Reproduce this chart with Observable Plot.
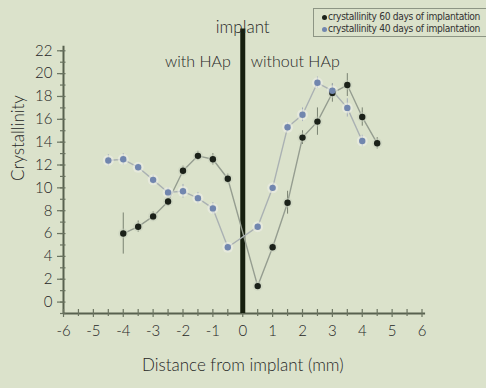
<!DOCTYPE html>
<html>
<head>
<meta charset="utf-8">
<script src="https://cdn.jsdelivr.net/npm/d3@7"></script>
<script src="https://cdn.jsdelivr.net/npm/@observablehq/plot@0.6"></script>
<style>
  html, body { margin: 0; padding: 0; background: #dbe2cb; }
  #wrap { position: relative; width: 486px; height: 388px; overflow: hidden; background: #dbe2cb; }
  #legend { position: absolute; left: 313px; top: 8px; width: 190px; height: 29px; border: 1.5px solid #8d9584;
    font-family: "DejaVu Sans Condensed", "Liberation Sans Narrow", sans-serif; font-size: 10.2px; color: #333; line-height: 12px; padding-top: 2px; box-sizing: border-box; }
  #legend div { white-space: nowrap; padding-left: 14px; position: relative; letter-spacing: -0.35px; height: 12px; }
  #legend span { position: absolute; left: 8px; top: 4px; width: 5px; height: 5px; border-radius: 50%; }
</style>
</head>
<body>
<div id="wrap"></div>
<script>
const seriesNames = ["crystallinity 60 days of implantation", "crystallinity 40 days of implantation"];
const seriesColors = ["#1b2119", "#7186ae"];

const x60 = [-4, -3.5, -3, -2.5, -2, -1.5, -1, -0.5, 0.5, 1, 1.5, 2, 2.5, 3, 3.5, 4, 4.5];
const y60 = [6.0, 6.6, 7.5, 8.8, 11.5, 12.8, 12.5, 10.8, 1.4, 4.8, 8.7, 14.4, 15.8, 18.3, 19.0, 16.2, 13.9];
const e60 = [1.8, 0.5, 0.4, 0.4, 0.4, 0.4, 0.5, 0.4, 0.2, 0.3, 1.0, 0.6, 1.2, 0.8, 1.0, 0.8, 0.5];

const x40 = [-4.5, -4, -3.5, -3, -2.5, -2, -1.5, -1, -0.5, 0.5, 1, 1.5, 2, 2.5, 3, 3.5, 4];
const y40 = [12.4, 12.5, 11.8, 10.7, 9.6, 9.7, 9.1, 8.2, 4.8, 6.6, 10.0, 15.3, 16.4, 19.2, 18.5, 17.0, 14.1];
const e40 = [0.5, 0.5, 0.3, 0.4, 0.4, 0.6, 0.5, 0.5, 0.3, 0.3, 0.3, 0.4, 0.6, 0.5, 0.6, 0.8, 0.5];

const xTicks = [-6, -5, -4, -3, -2, -1, 0, 1, 2, 3, 4, 5, 6];
const yTicks = [0, 2, 4, 6, 8, 10, 12, 14, 16, 18, 20, 22];

const d60 = x60.map((x, i) => ({x, y: y60[i], e: e60[i], s: seriesNames[0]}));
const d40 = x40.map((x, i) => ({x, y: y40[i], e: e40[i], s: seriesNames[1]}));

const font = "Lato, 'Open Sans', sans-serif";
const fmt = d => String(d);
const ink = "#262626";

const chart = Plot.plot({
  width: 486,
  height: 388,
  marginLeft: 63,
  marginRight: 64.5,
  marginTop: 48,
  marginBottom: 75,
  style: {background: "#dbe2cb", fontFamily: font, fontWeight: 300, color: ink},
  x: {domain: [-6, 6]},
  y: {domain: [-1, 22.2]},
  marks: [
    Plot.ruleX([-6], {y1: -1, y2: 22.4, stroke: "#58614f", strokeWidth: 2}),
    Plot.ruleY([-1], {x1: -6, x2: 6.12, stroke: "#58614f", strokeWidth: 2}),
    Plot.axisY({ticks: yTicks, tickFormat: fmt, tickSize: 6, tickPadding: 5, fontSize: 15, fontWeight: 300, fill: ink, label: null, stroke: "#6a7360", strokeWidth: 1.2}),
    Plot.axisY({ticks: d3.range(-1, 23, 1), tickSize: 3, text: null, label: null, stroke: "#6a7360", strokeWidth: 1.2}),
    Plot.axisY({ticks: d3.range(-1, 23, 1), tickSize: -2.5, text: null, label: null, stroke: "#6a7360", strokeWidth: 1.2}),
    Plot.axisX({ticks: xTicks, tickFormat: fmt, tickSize: 4, tickPadding: 8, fontSize: 15, fontWeight: 300, fill: ink, label: null, stroke: "#6a7360", strokeWidth: 1.2}),
    Plot.axisX({ticks: d3.range(-6, 6.5, 0.5), tickSize: -4, text: null, label: null, stroke: "#6a7360", strokeWidth: 1.2}),
    Plot.axisX({ticks: d3.range(-5.5, 6, 1), tickSize: 3, text: null, label: null, stroke: "#6a7360", strokeWidth: 1.2}),
    Plot.ruleX([0], {y1: -1, y2: 23.9, stroke: "#17200f", strokeWidth: 5}),
    Plot.line(d60, {x: "x", y: "y", stroke: "#959d90", strokeWidth: 1.4}),
    Plot.line(d40, {x: "x", y: "y", stroke: "#aab1b3", strokeWidth: 1.4}),
    Plot.ruleX(d60, {x: "x", y1: d => d.y - d.e, y2: d => d.y + d.e, stroke: "#7a8272", strokeWidth: 1}),
    Plot.ruleX(d40, {x: "x", y1: d => d.y - d.e, y2: d => d.y + d.e, stroke: "#a2abb8", strokeWidth: 1}),
    Plot.dot(d40, {x: "x", y: "y", r: 5.5, fill: "#eceee8", fillOpacity: 0.6}),
    Plot.dot(d60, {x: "x", y: "y", r: 5, fill: "#c8cfbd", fillOpacity: 0.5}),
    Plot.dot(d60, {x: "x", y: "y", r: 3.2, fill: seriesColors[0]}),
    Plot.dot(d40, {x: "x", y: "y", r: 3.2, fill: seriesColors[1]}),
    Plot.text(["implant"], {x: 0, frameAnchor: "top", dy: -28, fontSize: 17, fill: ink}),
    Plot.text(["with HAp"], {x: 0, frameAnchor: "top", dy: 7, dx: -12, textAnchor: "end", fontSize: 16, fill: ink}),
    Plot.text(["without HAp"], {x: 0, frameAnchor: "top", dy: 7, dx: 8, textAnchor: "start", fontSize: 16, fill: ink}),
    Plot.text(["Distance from implant (mm)"], {frameAnchor: "bottom", dy: 57, fontSize: 17, fill: ink}),
    Plot.text(["Crystallinity"], {frameAnchor: "left", dx: -45, dy: 0, rotate: -90, fontSize: 17, fill: ink})
  ]
});

const wrap = document.getElementById("wrap");
wrap.appendChild(chart);
const legend = document.createElement("div");
legend.id = "legend";
seriesNames.forEach((name, i) => {
  const row = document.createElement("div");
  const sw = document.createElement("span");
  sw.style.background = seriesColors[i];
  row.appendChild(sw);
  row.appendChild(document.createTextNode(name));
  legend.appendChild(row);
});
wrap.appendChild(legend);
</script>
</body>
</html>
